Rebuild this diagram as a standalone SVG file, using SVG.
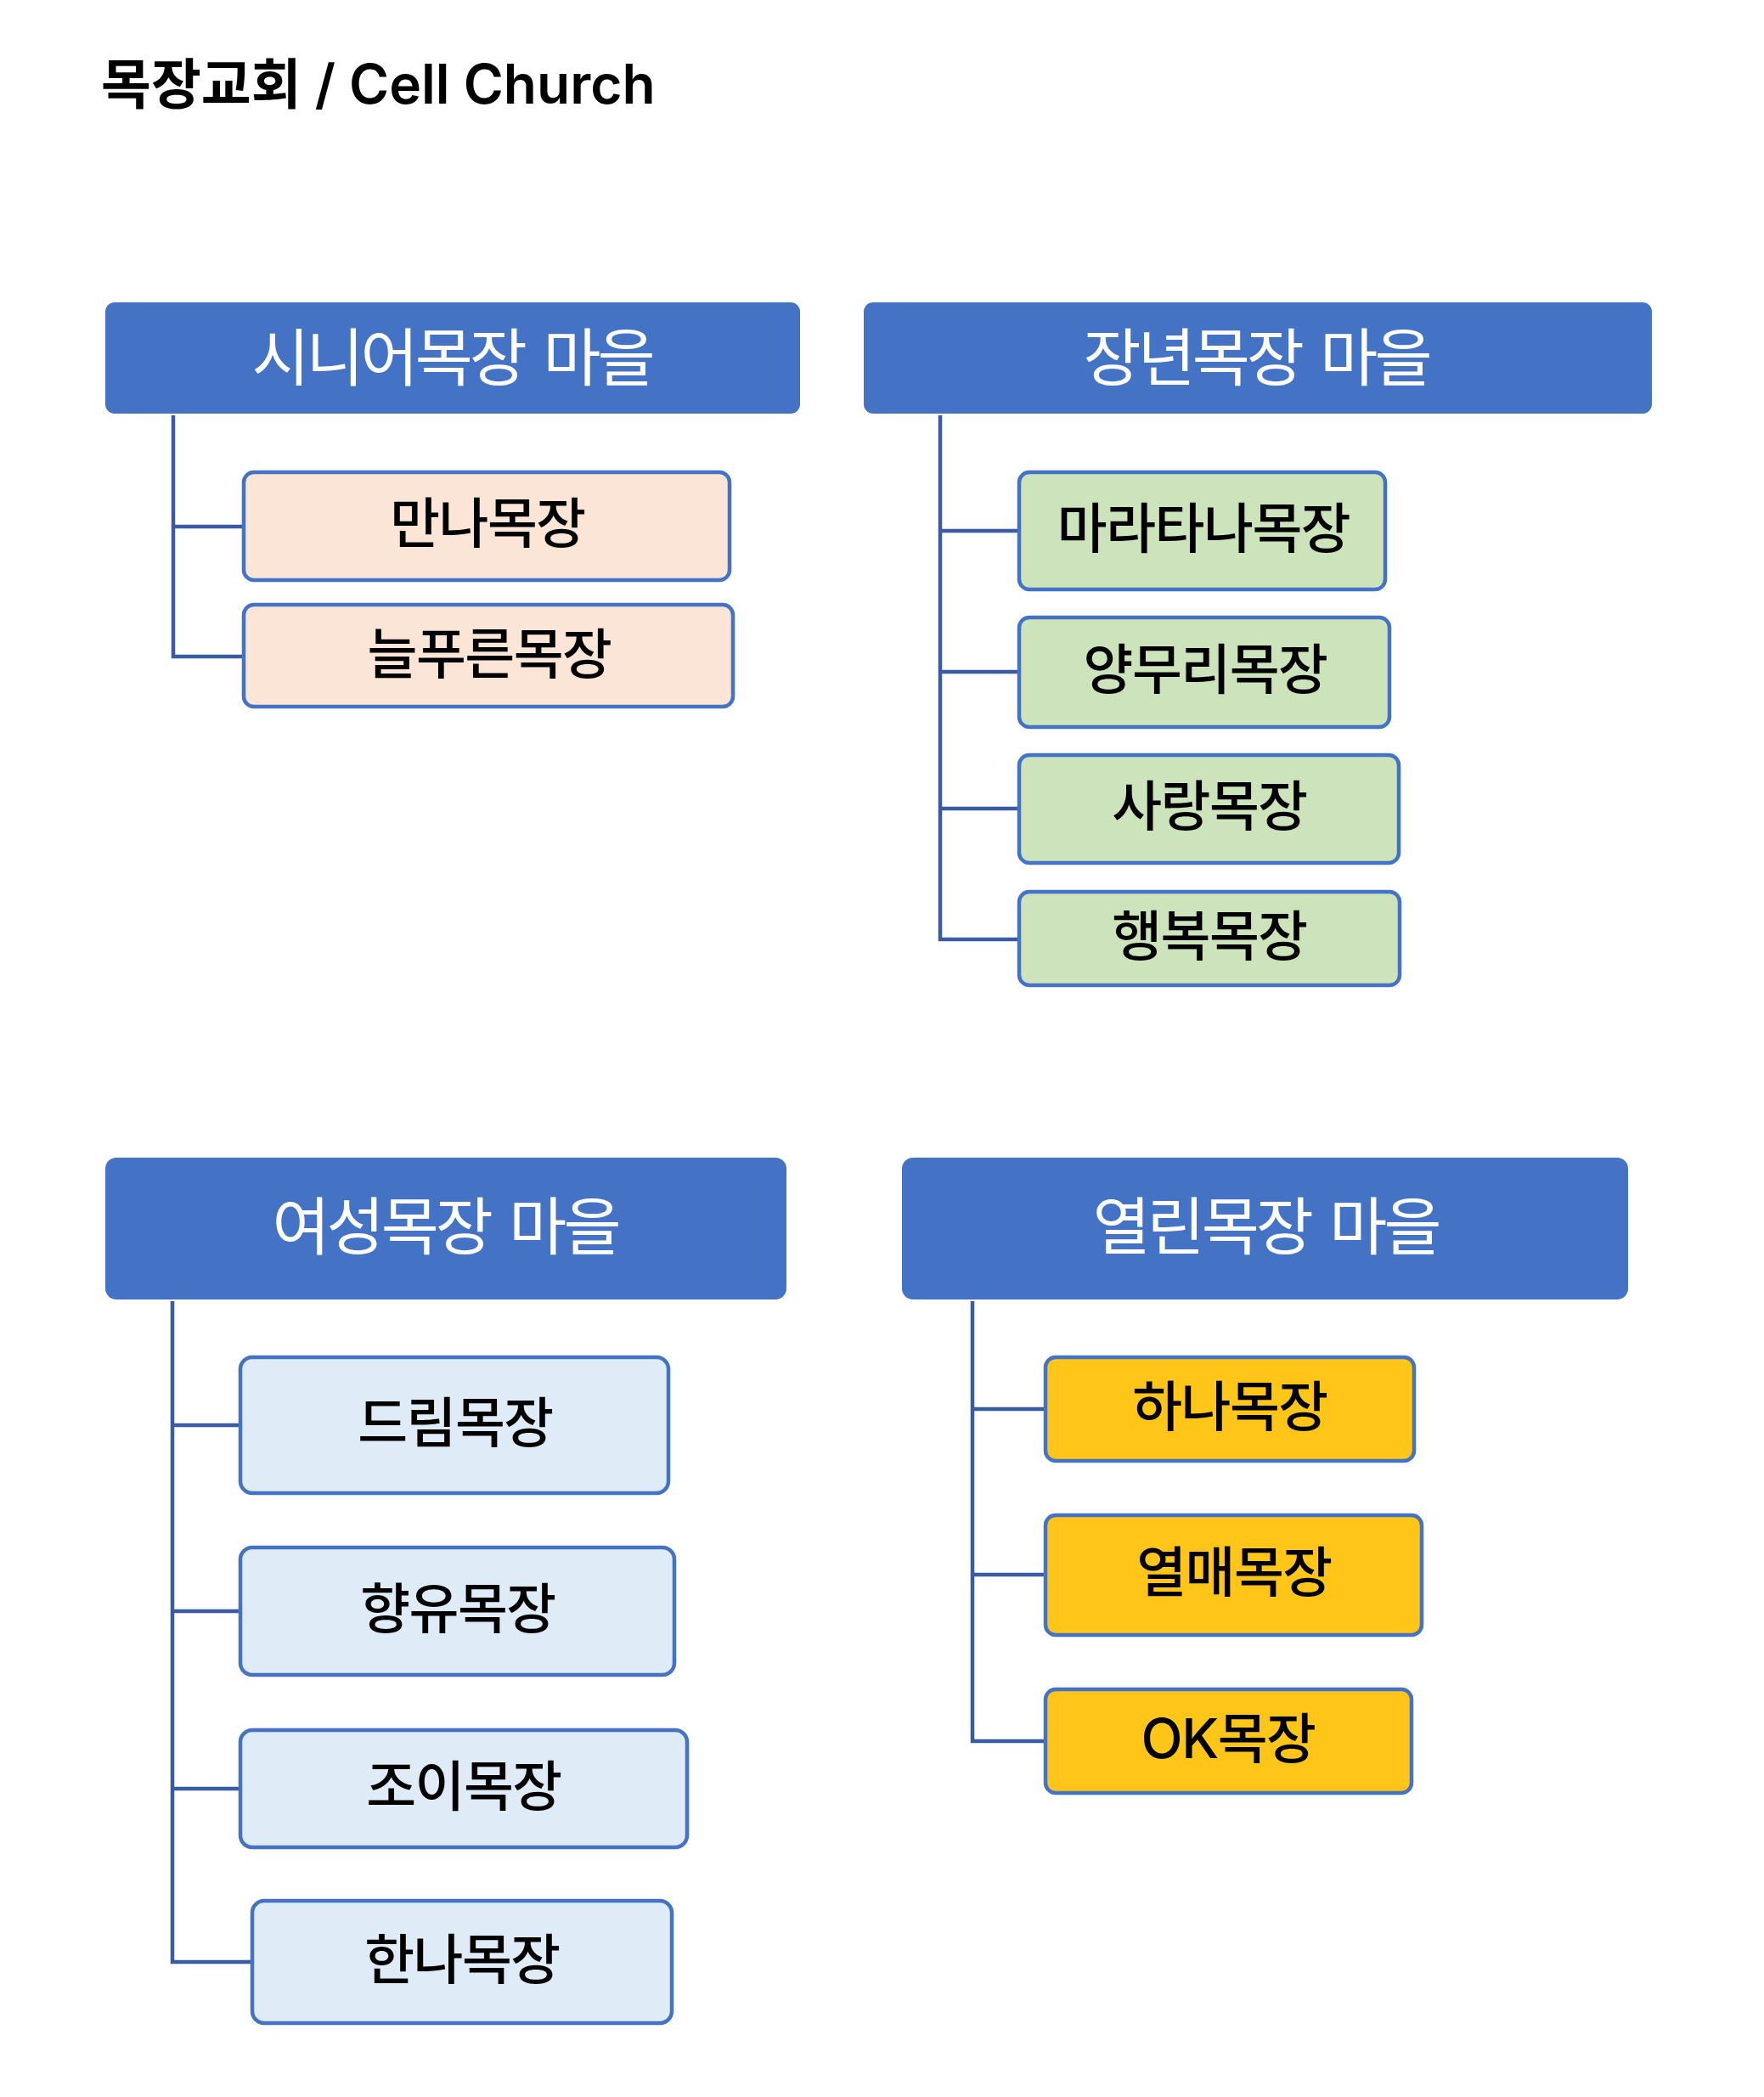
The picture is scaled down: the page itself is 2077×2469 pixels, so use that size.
<svg xmlns="http://www.w3.org/2000/svg" width="2077" height="2469" viewBox="0 0 2077 2469">
<style>
.title{font-family:"Inter","Noto Sans CJK KR",sans-serif;font-size:64px;font-weight:600;fill:#000}
.hdr rect{fill:#4472C4}
.hdr text{font-family:"Noto Sans CJK KR",sans-serif;font-size:74px;fill:#fff;text-anchor:middle;letter-spacing:-4px;word-spacing:10px}
.child rect{stroke:#4472C4;stroke-width:4.5}
.child text{font-family:"Inter","Noto Sans CJK KR",sans-serif;font-size:64px;font-weight:500;fill:#000;text-anchor:middle;letter-spacing:-1.5px}
.peach rect{fill:#FBE5D6}
.green rect{fill:#CCE3BC}
.blue rect{fill:#DFEBF7}
.yellow rect{fill:#FFC519}
.conn path{fill:none;stroke:#3A5BA4;stroke-width:4.5}
</style>
<rect width="2077" height="2469" fill="#fff"/>
<text class="title" x="119" y="122">목장교회 / Cell Church</text>
<g class="conn" id="connectors">
<path d="M204,489 V773 H287 M204,620 H287"/>
<path d="M1107,489 V1106 H1200 M1107,625 H1200 M1107,791 H1200 M1107,952 H1200"/>
<path d="M203,1532 V2310 H297 M203,1678 H283 M203,1897 H283 M203,2106 H283"/>
<path d="M1145,1532 V2050 H1231 M1145,1659 H1231 M1145,1854 H1231"/>
</g>
<g id="h1" class="hdr"><rect x="124" y="356" width="818" height="131" rx="11"/><text x="532" y="448">시니어목장 마을</text></g>
<g id="h2" class="hdr"><rect x="1017" y="356" width="928" height="131" rx="11"/><text x="1479" y="448">장년목장 마을</text></g>
<g id="h3" class="hdr"><rect x="124" y="1363" width="802" height="167" rx="13"/><text x="524" y="1471">여성목장 마을</text></g>
<g id="h4" class="hdr"><rect x="1062" y="1363" width="855" height="167" rx="13"/><text x="1490" y="1471" letter-spacing="-6">열린목장 마을</text></g>
<g id="c1" class="child peach"><rect x="287" y="556" width="572" height="127" rx="12"/><text x="574" y="639">만나목장</text></g>
<g id="c2" class="child peach"><rect x="287" y="712" width="576" height="120" rx="12"/><text x="576" y="793">늘푸른목장</text></g>
<g id="c3" class="child green"><rect x="1200" y="556" width="431" height="138" rx="12"/><text x="1417" y="645">마라타나목장</text></g>
<g id="c4" class="child green"><rect x="1200" y="727" width="436" height="129" rx="12"/><text x="1419" y="811">양무리목장</text></g>
<g id="c5" class="child green"><rect x="1200" y="889" width="447" height="127" rx="12"/><text x="1424" y="972">사랑목장</text></g>
<g id="c6" class="child green"><rect x="1200" y="1050" width="448" height="110" rx="12"/><text x="1424" y="1125">행복목장</text></g>
<g id="c7" class="child blue"><rect x="283" y="1598" width="504" height="160" rx="14"/><text x="536" y="1698">드림목장</text></g>
<g id="c8" class="child blue"><rect x="283" y="1822" width="511" height="150" rx="14"/><text x="539" y="1917">향유목장</text></g>
<g id="c9" class="child blue"><rect x="283" y="2037" width="526" height="138" rx="14"/><text x="546" y="2126">조이목장</text></g>
<g id="c10" class="child blue"><rect x="297" y="2238" width="494" height="144" rx="14"/><text x="544" y="2330">한나목장</text></g>
<g id="c11" class="child yellow"><rect x="1231" y="1598" width="434" height="122" rx="12"/><text x="1448" y="1679">하나목장</text></g>
<g id="c12" class="child yellow"><rect x="1231" y="1784" width="443" height="141" rx="12"/><text x="1453" y="1874">열매목장</text></g>
<g id="c13" class="child yellow"><rect x="1231" y="1989" width="431" height="122" rx="12"/><text x="1446" y="2070">OK목장</text></g>
</svg>
